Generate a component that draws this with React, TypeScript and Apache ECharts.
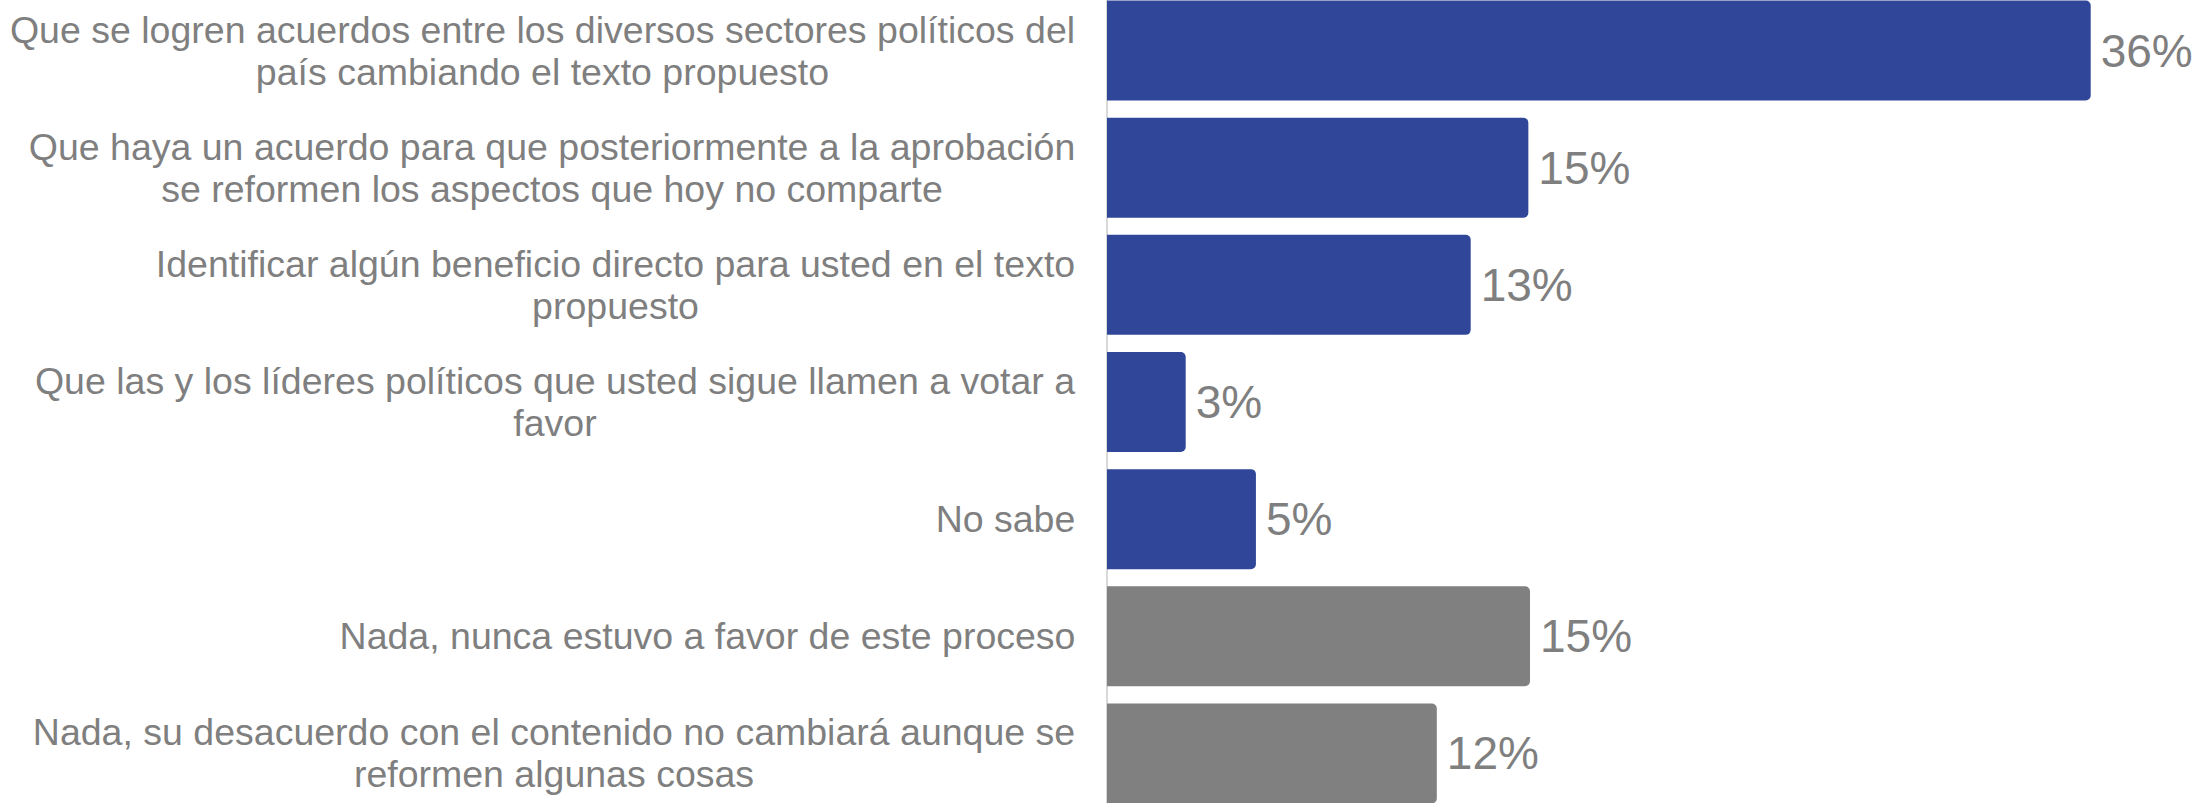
import React, { useEffect, useRef } from "react";
import * as echarts from "echarts";

const categories = [
  "Que se logren acuerdos entre los diversos sectores políticos del\npaís cambiando el texto propuesto",
  "Que haya un acuerdo para que posteriormente a la aprobación\nse reformen los aspectos que hoy no comparte",
  "Identificar algún beneficio directo para usted en el texto\npropuesto",
  "Que las y los líderes políticos que usted sigue llamen a votar a\nfavor",
  "No sabe",
  "Nada, nunca estuvo a favor de este proceso",
  "Nada, su desacuerdo con el contenido no cambiará aunque se\nreformen algunas cosas",
];
const values = [36.0, 15.42, 13.31, 2.88, 5.45, 15.48, 12.07];
const barColors = ["#2f4699", "#2f4699", "#2f4699", "#2f4699", "#2f4699", "#808080", "#808080"];

const FONT = '"Liberation Sans", Arial, sans-serif';
const CAT_SIZE = 37.5;
const TEXT_COLOR = "#7f7f7f";

export default function App() {
  const ref = useRef<HTMLDivElement>(null);
  useEffect(() => {
    document.body.style.margin = "0";
    document.body.style.overflow = "hidden";
    if (!ref.current) return;
    const canvas = document.createElement("canvas");
    const ctx = canvas.getContext("2d")!;
    ctx.font = `${CAT_SIZE}px ${FONT}`;
    const rich: Record<string, any> = {};
    categories.forEach((c, i) => {
      const w = Math.max(...c.split("\n").map((l) => ctx.measureText(l).width));
      rich["c" + i] = {
        width: Math.ceil(w) + 1,
        align: "center",
        fontSize: CAT_SIZE,
        lineHeight: 42,
        color: TEXT_COLOR,
        fontFamily: FONT,
      };
    });
    const chart = echarts.init(ref.current, undefined, { renderer: "svg" });
    chart.setOption({
      animation: false,
      grid: { left: 1107, width: 1038.35, top: 0, bottom: 0 },
      xAxis: { type: "value", min: 0, max: 38, show: false },
      yAxis: {
        type: "category",
        inverse: true,
        data: categories,
        axisLine: { show: true, lineStyle: { color: "#d9d9d9", width: 2 } },
        axisTick: { show: false },
        axisLabel: {
          margin: 31,
          align: "right",
          fontFamily: FONT,
          fontSize: CAT_SIZE,
          color: TEXT_COLOR,
          formatter: (v: string, idx: number) =>
            v
              .split("\n")
              .map((l) => `{c${idx}|${l}}`)
              .join("\n"),
          rich,
        },
      },
      series: [
        {
          type: "bar",
          barWidth: 100,
          data: values.map((v, i) => ({ value: v, itemStyle: { color: barColors[i] } })),
          itemStyle: { borderRadius: [0, 5, 5, 0] },
          label: {
            show: true,
            position: "right",
            distance: 10,
            fontSize: 46,
            fontFamily: FONT,
            color: TEXT_COLOR,
            formatter: (p: any) => `${Math.round(p.value)}%`,
          },
        },
      ],
    });
    return () => chart.dispose();
  }, []);
  return (
    <div style={{ position: "relative", width: 2201, height: 803, overflow: "hidden" }}>
      <div ref={ref} style={{ position: "absolute", left: 0, top: -8, width: 2201, height: 820 }} />
    </div>
  );
}
